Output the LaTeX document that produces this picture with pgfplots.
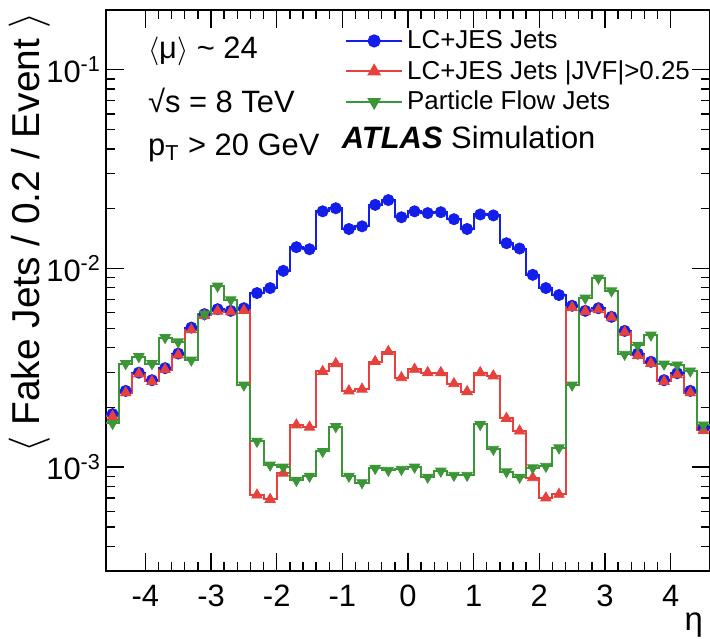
\documentclass[border=0pt]{standalone}
\usepackage{pgfplots}
\pgfplotsset{compat=1.18}
\usepackage{pgfplotstable}
\usepackage{fontspec}
\setmainfont{Liberation Sans}
\definecolor{cB}{RGB}{20,30,235}
\definecolor{cR}{RGB}{230,65,60}
\definecolor{cG}{RGB}{60,150,55}
\pgfplotstableread{
x b r g
-4.5 1.85e-3 1.80e-3 1.66e-3
-4.3 2.42e-3 2.37e-3 3.32e-3
-4.1 2.99e-3 2.95e-3 3.60e-3
-3.9 2.74e-3 2.70e-3 3.32e-3
-3.7 3.15e-3 3.10e-3 4.49e-3
-3.5 3.73e-3 3.67e-3 4.27e-3
-3.3 5.04e-3 4.91e-3 3.46e-3
-3.1 5.89e-3 5.80e-3 5.89e-3
-2.9 6.24e-3 6.10e-3 8.15e-3
-2.7 6.12e-3 6.05e-3 6.95e-3
-2.5 6.31e-3 6.15e-3 2.59e-3
-2.3 7.52e-3 7.24e-4 1.35e-3
-2.1 7.97e-3 6.88e-4 1.025e-3
-1.9 9.73e-3 9.33e-4 1.00e-3
-1.7 1.28e-2 1.63e-3 8.58e-4
-1.5 1.25e-2 1.59e-3 9.00e-4
-1.3 1.94e-2 3.03e-3 1.20e-3
-1.1 2.01e-2 3.32e-3 1.60e-3
-0.9 1.58e-2 2.42e-3 9.00e-4
-0.7 1.63e-2 2.47e-3 8.35e-4
-0.5 2.09e-2 3.40e-3 9.86e-4
-0.3 2.21e-2 3.82e-3 9.64e-4
-0.1 1.81e-2 2.82e-3 9.75e-4
0.1 1.94e-2 3.11e-3 1.00e-3
0.3 1.90e-2 2.99e-3 8.90e-4
0.5 1.92e-2 2.99e-3 9.55e-4
0.7 1.77e-2 2.63e-3 9.10e-4
0.9 1.58e-2 2.40e-3 9.10e-4
1.1 1.87e-2 2.99e-3 1.64e-3
1.3 1.85e-2 2.88e-3 1.23e-3
1.5 1.34e-2 1.76e-3 9.48e-4
1.7 1.26e-2 1.52e-3 8.90e-4
1.9 9.29e-3 8.85e-4 9.93e-4
2.1 7.97e-3 7.00e-4 1.01e-3
2.3 7.35e-3 7.30e-4 1.25e-3
2.5 6.49e-3 6.37e-3 2.59e-3
2.7 6.12e-3 6.08e-3 7.10e-3
2.9 6.31e-3 6.20e-3 8.94e-3
3.1 5.71e-3 5.68e-3 7.72e-3
3.3 4.85e-3 4.78e-3 3.70e-3
3.5 3.73e-3 3.65e-3 4.11e-3
3.7 3.39e-3 3.33e-3 4.62e-3
3.9 2.74e-3 2.70e-3 3.30e-3
4.1 2.97e-3 2.92e-3 3.27e-3
4.3 2.42e-3 2.37e-3 3.05e-3
4.5 1.57e-3 1.53e-3 1.63e-3
4.7 1.57e-3 1.53e-3 1.63e-3
}\data
\begin{document}
\begin{tikzpicture}
\begin{axis}[
  scale only axis, width=302bp, height=280.5bp,
  xmin=-4.6, xmax=4.6, ymin=3e-4, ymax=0.2, ymode=log,
  xtick={-4,-3,-2,-1,0,1,2,3,4},
  xticklabels={-4,-3,-2,-1,0,1,2,3,4},
  minor x tick num=4,
  ytick={1e-3,1e-2,1e-1},
  yticklabels={10\textsuperscript{-3},10\textsuperscript{-2},10\textsuperscript{-1}},
  minor ytick={4e-4,5e-4,6e-4,7e-4,8e-4,9e-4,2e-3,3e-3,4e-3,5e-3,6e-3,7e-3,8e-3,9e-3,2e-2,3e-2,4e-2,5e-2,6e-2,7e-2,8e-2,9e-2,0.2},
  tick align=inside, major tick length=9bp, minor tick length=4.5bp,
  every tick/.style={black, line width=0.7bp},
  axis line style={line width=0.8bp},
  tick label style={font=\fontsize{15.5}{16}\selectfont},
  xticklabel style={yshift=-3.5bp},
  yticklabel style={xshift=1bp},
  every axis y label/.style={at={(axis description cs:-0.127,0.604)}, rotate=90, anchor=center, font=\fontsize{19.5}{20}\selectfont},
  every axis x label/.style={at={(axis description cs:1,0)}, anchor=base east, yshift=-29.5bp, font=\fontsize{16.5}{17}\selectfont},
  ylabel={$\langle$ Fake Jets / 0.2 / Event $\rangle$},
  xlabel={η},
  clip mode=global,
  legend style={draw=none, fill=none, at={(axis description cs:0.392,0.975)}, anchor=north west, font=\fontsize{13}{14}\selectfont, row sep=0.5bp, inner sep=1bp},
  legend cell align=left,
  legend image code/.code={\draw[mark repeat=2, mark phase=2] plot coordinates {(0bp,0bp) (14bp,0bp) (28bp,0bp)};},
]
\addlegendimage{cB, line width=1bp, mark=*, mark size=2.8bp, mark options={solid}}
\addlegendentry{LC+JES Jets}
\addlegendimage{cR, line width=1bp, mark=triangle*, mark size=3bp}
\addlegendentry{LC+JES Jets |JVF|>0.25}
\addlegendimage{cG, line width=1bp, mark=triangle*, mark size=3bp, mark options={rotate=180}}
\addlegendentry{Particle Flow Jets}

\addplot[cB, line width=1bp, const plot, no marks, forget plot] table[x expr=\thisrow{x}-0.1, y=b] {\data};
\addplot[cB, only marks, mark=*, mark size=2.8bp, forget plot] table[x=x, y=b] {\data};
\addplot[cR, line width=1bp, const plot, no marks, forget plot] table[x expr=\thisrow{x}-0.1, y=r] {\data};
\addplot[cR, only marks, mark=triangle*, mark size=3bp, forget plot] table[x=x, y=r] {\data};
\addplot[cG, line width=1bp, const plot, no marks, forget plot] table[x expr=\thisrow{x}-0.1, y=g] {\data};
\addplot[cG, only marks, mark=triangle*, mark size=3bp, mark options={rotate=180}, forget plot] table[x=x, y=g] {\data};

\node[anchor=west, font=\fontsize{15.5}{16}\selectfont] at (axis description cs:0.058,0.927) {$\langle$μ$\rangle$ \textasciitilde\ 24};
\node[anchor=west, font=\fontsize{15.5}{16}\selectfont] at (axis description cs:0.058,0.838) {√s = 8 TeV};
\node[anchor=west, font=\fontsize{15.5}{16}\selectfont] at (axis description cs:0.058,0.754) {p\textsubscript{T} > 20 GeV};
\node[anchor=west, font=\fontsize{15.5}{16}\selectfont] at (axis description cs:0.379,0.772) {{\bfseries\itshape ATLAS} Simulation};
\coordinate (sw) at (rel axis cs:0,0);
\coordinate (ne) at (rel axis cs:1,1);
\end{axis}
\pgfresetboundingbox
\path[use as bounding box] ([xshift=-53bp,yshift=-33.5bp]sw) rectangle ([xshift=0bp,yshift=5bp]ne);
\end{tikzpicture}
\end{document}
